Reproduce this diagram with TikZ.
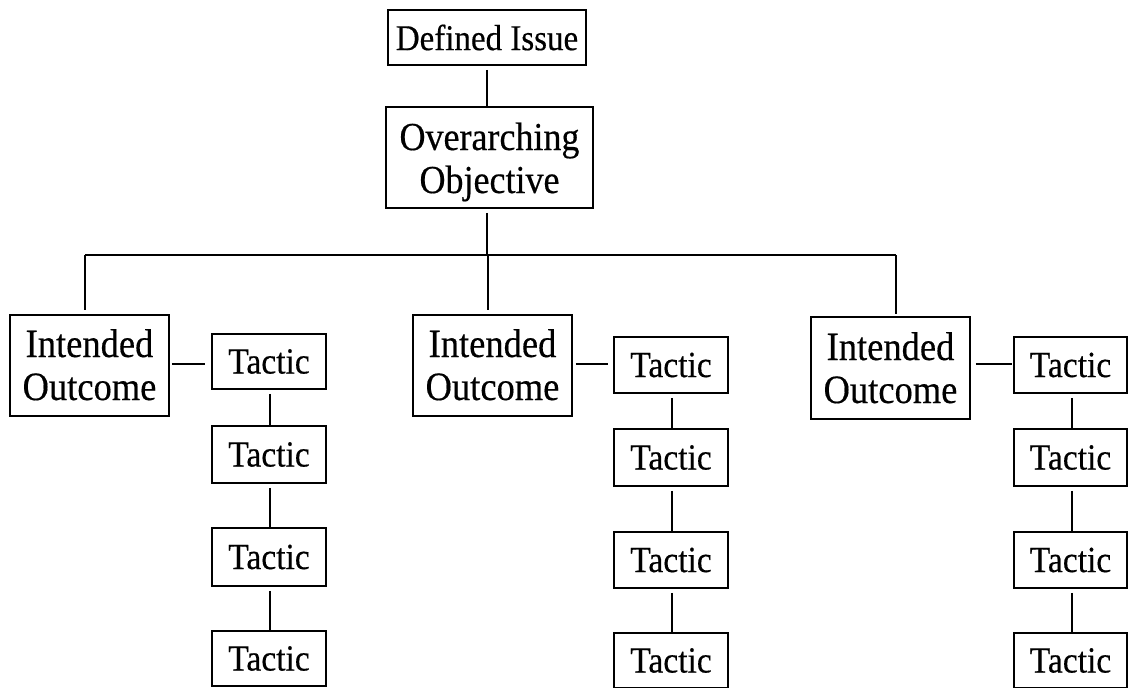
\documentclass[tikz,border=0pt]{standalone}
\usepackage{fontspec}
\usepackage{graphicx}
\setmainfont{Liberation Serif}
\newfontfamily\diagfont{Liberation Serif}[FakeBold=0.4]
\newcommand{\vsc}[1]{\scalebox{1}[1.1]{#1}}
\begin{document}
\begin{tikzpicture}[x=1pt,y=-1pt,line width=1.8pt,
  box/.style={draw,rectangle,inner sep=0pt,align=center},
  topbox/.style={box,minimum width=198pt,minimum height=55pt,font=\diagfont\fontsize{33}{40}\selectfont},
  bigbox/.style={box,minimum width=159pt,minimum height=0pt,text height=85pt,text depth=16pt,font=\diagfont\fontsize{36.5}{43}\selectfont},
  objbox/.style={box,minimum width=207pt,minimum height=0pt,text height=86pt,text depth=15pt,font=\diagfont\fontsize{36}{43}\selectfont},
  tacbox/.style={box,minimum width=114pt,minimum height=55pt,font=\diagfont\fontsize{33.5}{40}\selectfont},
  conn/.style={line width=1.8pt}]
\useasboundingbox (0,0) rectangle (1128,688);
% top
\node[topbox] (di) at (487,37.5) {\vsc{Defined Issue}};
\node[objbox] (oo) at (489.5,157.5) {\vsc{Overarching}\\\vsc{Objective}};
% intended outcomes
\node[bigbox] (io1) at (89.5,365.5) {\vsc{Intended}\\\vsc{Outcome}};
\node[bigbox] (io2) at (492.5,365.5) {\vsc{Intended}\\\vsc{Outcome}};
\node[bigbox,text height=86pt] (io3) at (890.5,368) {\vsc{Intended}\\\vsc{Outcome}};
% tactics column 1
\node[tacbox] (t1a) at (269,361.5) {\vsc{Tactic}};
\node[tacbox,minimum height=57pt] (t1b) at (269,454.5) {\vsc{Tactic}};
\node[tacbox,minimum height=58pt] (t1c) at (269,557) {\vsc{Tactic}};
\node[tacbox] (t1d) at (269,658.5) {\vsc{Tactic}};
% tactics column 2
\node[tacbox,minimum height=56pt] (t2a) at (671,365) {\vsc{Tactic}};
\node[tacbox,minimum height=57pt] (t2b) at (671,457.5) {\vsc{Tactic}};
\node[tacbox,minimum height=56pt] (t2c) at (671,560) {\vsc{Tactic}};
\node[tacbox,minimum height=55pt] (t2d) at (671,660.5) {\vsc{Tactic}};
% tactics column 3
\node[tacbox,minimum width=113pt,minimum height=56pt] (t3a) at (1070.5,365) {\vsc{Tactic}};
\node[tacbox,minimum width=113pt,minimum height=57pt] (t3b) at (1070.5,457.5) {\vsc{Tactic}};
\node[tacbox,minimum width=113pt,minimum height=56pt] (t3c) at (1070.5,560) {\vsc{Tactic}};
\node[tacbox,minimum width=113pt,minimum height=55pt] (t3d) at (1070.5,660.5) {\vsc{Tactic}};
% bar coordinates
\coordinate (hL) at (85,255);
\coordinate (hM) at (487,255);
\coordinate (hM2) at (488,255);
\coordinate (hR) at (896,255);
% connectors
\draw[conn,shorten <=4pt] (di.south) -- (di.south |- oo.north);
\draw[conn,shorten <=4pt] (oo.south -| hM) -- (hM);
\draw[conn] (hL) -- (hR);
\draw[conn,shorten >=4pt] (hL) -- (hL |- io1.north);
\draw[conn,shorten >=4pt] (hM2) -- (hM2 |- io2.north);
\draw[conn,shorten >=2pt] (hR) -- (hR |- io3.north);
\draw[conn,shorten <=2pt,shorten >=6pt] (io1.east |- 0,364) -- (t1a.west |- 0,364);
\draw[conn,shorten <=3pt,shorten >=5pt] (io2.east |- 0,364) -- (t2a.west |- 0,364);
\draw[conn,shorten <=5pt,shorten >=1pt] (io3.east |- 0,364) -- (t3a.west |- 0,364);
\foreach \c/\dx in {1/1,2/1,3/1.5}{
  \draw[conn,shorten <=4pt] ([xshift=\dx pt]t\c a.south) -- ([xshift=\dx pt]t\c b.north);
  \draw[conn,shorten <=4pt] ([xshift=\dx pt]t\c b.south) -- ([xshift=\dx pt]t\c c.north);
  \draw[conn,shorten <=4pt] ([xshift=\dx pt]t\c c.south) -- ([xshift=\dx pt]t\c d.north);
}
\end{tikzpicture}
\end{document}
